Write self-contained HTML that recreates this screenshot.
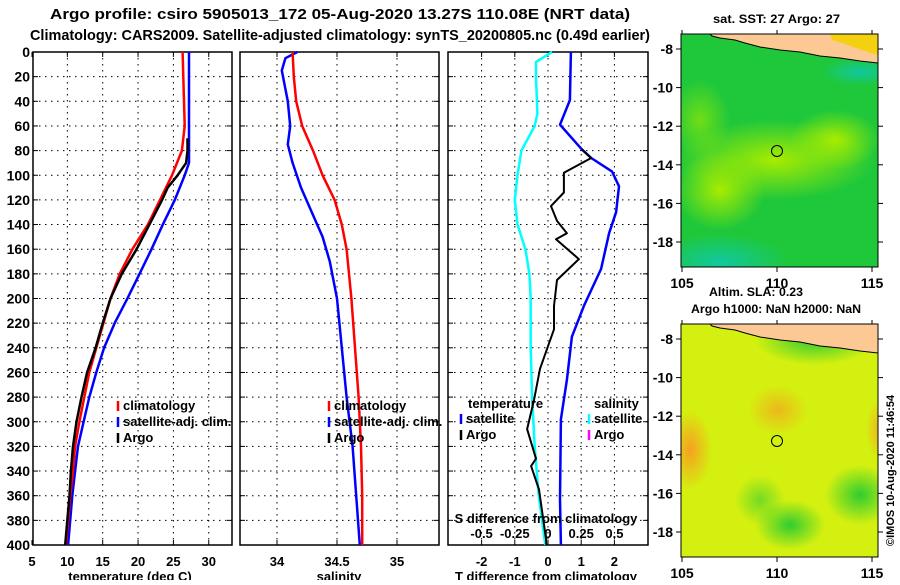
<!DOCTYPE html>
<html><head><meta charset="utf-8"><style>
body{margin:0;background:#fff;}
svg text{font-family:"Liberation Sans",Arial,sans-serif;font-weight:bold;}
</style></head><body>
<svg id="fig" width="900" height="580" viewBox="0 0 900 580" xmlns="http://www.w3.org/2000/svg">
<defs>
<radialGradient id="g1" cx="0.5" cy="0.5" r="0.5"><stop offset="0" stop-color="#a8ec00"/><stop offset="1" stop-color="#a8ec00" stop-opacity="0"/></radialGradient>
<radialGradient id="g2" cx="0.5" cy="0.5" r="0.5"><stop offset="0" stop-color="#10c8a0"/><stop offset="1" stop-color="#10c8a0" stop-opacity="0"/></radialGradient>
<radialGradient id="o1" cx="0.5" cy="0.5" r="0.5"><stop offset="0" stop-color="#f7a020"/><stop offset="1" stop-color="#f7a020" stop-opacity="0"/></radialGradient>
<radialGradient id="gg" cx="0.5" cy="0.5" r="0.5"><stop offset="0" stop-color="#30cc30"/><stop offset="1" stop-color="#30cc30" stop-opacity="0"/></radialGradient>
<clipPath id="cm1"><rect x="681" y="34" width="197" height="233"/></clipPath>
<clipPath id="cm2"><rect x="681" y="324" width="197" height="233"/></clipPath>
</defs>
<text x="50" y="19" font-size="15" textLength="580" lengthAdjust="spacingAndGlyphs">Argo profile: csiro 5905013_172 05-Aug-2020 13.27S 110.08E (NRT data)</text>
<text x="30" y="40" font-size="15" textLength="620" lengthAdjust="spacingAndGlyphs">Climatology: CARS2009. Satellite-adjusted climatology: synTS_20200805.nc (0.49d earlier)</text>
<g id="p1"></g>
<g id="p2"></g>
<g id="p3"></g>

<!-- top map -->
<g>
<text x="713" y="23" font-size="12" textLength="127" lengthAdjust="spacingAndGlyphs">sat. SST: 27 Argo: 27</text>
<g clip-path="url(#cm1)">
<rect x="681" y="34" width="197" height="233" fill="#1fc83a"/>
<ellipse cx="775" cy="160" rx="100" ry="40" fill="url(#g1)"/>
<ellipse cx="835" cy="140" rx="45" ry="30" fill="url(#g1)"/>
<ellipse cx="720" cy="190" rx="45" ry="40" fill="url(#g1)"/>
<ellipse cx="700" cy="120" rx="30" ry="40" fill="url(#g1)" opacity="0.6"/>
<ellipse cx="720" cy="262" rx="70" ry="28" fill="url(#g2)"/>
<ellipse cx="860" cy="72" rx="40" ry="14" fill="url(#g2)"/>
<path d="M710,34 L878,34 L878,63 L860,61 L840,58 L820,56 L800,52 L780,50 L760,47 L745,43 L735,40 L720,38 L712,36 Z" fill="#fcc894" stroke="#000" stroke-width="1"/>
<path d="M830,34 L878,34 L878,55 L862,50 L845,44 L832,40 Z" fill="#f5d010"/>
</g>
<rect x="681" y="34" width="197" height="233" fill="none" stroke="#000"/>
<circle cx="777" cy="151" r="5.5" fill="none" stroke="#000"/>
<g id="m1ax"></g>
<text x="709" y="296" font-size="12" textLength="94" lengthAdjust="spacingAndGlyphs">Altim. SLA: 0.23</text>
<text x="691" y="313" font-size="12" textLength="170" lengthAdjust="spacingAndGlyphs">Argo h1000: NaN h2000: NaN</text>
</g>
<!-- bottom map -->
<g>
<g clip-path="url(#cm2)">
<rect x="681" y="324" width="197" height="233" fill="#d4f010"/>
<ellipse cx="815" cy="340" rx="60" ry="25" fill="url(#gg)"/>
<ellipse cx="860" cy="495" rx="35" ry="30" fill="url(#gg)"/>
<ellipse cx="790" cy="525" rx="35" ry="25" fill="url(#gg)"/>
<ellipse cx="760" cy="500" rx="25" ry="25" fill="url(#gg)" opacity="0.6"/>
<ellipse cx="690" cy="450" rx="22" ry="40" fill="url(#o1)"/>
<ellipse cx="778" cy="410" rx="30" ry="25" fill="url(#o1)" opacity="0.7"/>
<ellipse cx="878" cy="430" rx="12" ry="30" fill="url(#o1)" opacity="0.7"/>
<path d="M710,324 L878,324 L878,353 L860,351 L840,348 L820,346 L800,342 L780,340 L760,337 L745,333 L735,330 L720,328 L712,326 Z" fill="#fcc894" stroke="#000" stroke-width="1"/>
</g>
<rect x="681" y="324" width="197" height="233" fill="none" stroke="#000"/>
<circle cx="777" cy="441" r="5.5" fill="none" stroke="#000"/>
<g id="m2ax"></g>
</g>
<text transform="translate(894,546) rotate(-90)" font-size="11" font-weight="normal">©IMOS 10-Aug-2020 11:46:54</text>
</svg>
<script>
// depths (m) and values
const tDepClim=[0,20,40,60,80,100,120,140,160,180,200,220,240,260,280,300,320,340,360,380,400];
const tClim=[26.3,26.4,26.5,26.6,26.2,24.8,23.1,21.4,19.2,17.4,16.1,15.1,14.1,13.1,12.4,11.7,11.1,10.8,10.4,10.1,9.8];
const tDepSat=[0,20,40,60,80,90,100,120,140,160,180,200,220,240,260,280,300,320,340,360,380,400];
const tSat=[27.2,27.2,27.2,27.2,27.2,27.2,26.6,25.2,23.5,21.9,20.2,18.5,16.7,15.2,14.1,13.1,12.3,11.5,11.1,10.7,10.4,10.1];
const tDepArgo=[70,80,90,100,110,120,140,160,180,200,220,240,260,280,300,320,340,360,380,400];
const tArgo=[27,27,26.8,25.6,24.2,23.4,21.6,19.8,17.7,16.1,15,14,12.8,12,11.3,10.8,10.5,10.3,10,9.7];
const sDepClim=[0,20,40,60,80,100,120,140,160,180,200,240,280,320,360,400];
const sClim=[34.13,34.14,34.16,34.21,34.30,34.38,34.48,34.54,34.58,34.60,34.62,34.65,34.68,34.70,34.71,34.71];
const sDepSat=[0,5,15,40,60,75,90,110,130,150,170,200,240,280,320,360,400];
const sSat=[34.17,34.07,34.04,34.09,34.11,34.09,34.13,34.20,34.29,34.38,34.44,34.50,34.54,34.58,34.63,34.66,34.69];
const dDepT=[0,39,59,79,86,97,109,130,147,176,206,231,266,298,363,400];
const dTSat=[0.69,0.66,0.36,1.02,1.30,1.93,2.14,2.05,1.84,1.60,1.08,0.72,0.57,0.39,0.36,0.39];
const dDepArgo=[79,86,98,114,125,137,147,152,168,185,206,225,257,282,306,330,336,355,395,400];
const dTArgo=[1.02,1.30,0.48,0.48,0.09,0.27,0.57,0.24,0.93,0.27,0.18,0.18,-0.24,-0.42,-0.63,-0.36,-0.51,-0.27,-0.06,-0.05];
const dDepS=[0,8,20,50,60,80,100,120,140,160,180,200,240,280,320,360,400];
const dSSat=[0.03,-0.09,-0.09,-0.08,-0.10,-0.20,-0.23,-0.25,-0.23,-0.17,-0.14,-0.13,-0.13,-0.12,-0.10,-0.07,-0.02];
const depthTicks=[0,20,40,60,80,100,120,140,160,180,200,220,240,260,280,300,320,340,360,380,400];
const tTicks=[5,10,15,20,25,30];
const sTicks=[34,34.5,35];
const dTTicks=[-2,-1,0,1,2];
const dSTicks=[-0.5,-0.25,0,0.25,0.5];
const latTicks=[-8,-10,-12,-14,-16,-18];
const lonTicks=[105,110,115];

const NS='http://www.w3.org/2000/svg';
const Y0=52,Y1=545;
const yD=d=>Y0+(Y1-Y0)*d/400;
function el(t,a,p){const e=document.createElementNS(NS,t);for(const k in a)e.setAttribute(k,a[k]);p.appendChild(e);return e;}
function txt(p,x,y,s,anchor,size){const e=el('text',{x:x,y:y,'text-anchor':anchor||'middle','font-size':size||13},p);e.textContent=s;return e;}

function panel(g,x0,x1,xs,ticks,showDepth){
  const fr=el('rect',{x:x0,y:Y0,width:x1-x0,height:Y1-Y0,fill:'none',stroke:'#000','stroke-width':1.5},g);
  
  
  depthTicks.forEach(d=>{
    const y=yD(d);
    if(d>0&&d<400){const l=el('line',{x1:x0,x2:x1,y1:y,y2:y,stroke:'#000','stroke-dasharray':'1.5,4.5','stroke-width':1},g);
      
      }
    el('line',{x1:x0,x2:x0+5,y1:y,y2:y,stroke:'#000'},g);el('line',{x1:x1-5,x2:x1,y1:y,y2:y,stroke:'#000'},g);
    if(showDepth){const t=txt(g,x0-3,y+5,String(d),'end',14);
      
      }
  });
  ticks.forEach(v=>{const x=xs(v);
    if(x>x0+1&&x<x1-1){const l=el('line',{x1:x,x2:x,y1:Y0,y2:Y1,stroke:'#000','stroke-dasharray':'1.5,4.5'},g);
      
      }
    el('line',{x1:x,x2:x,y1:Y1-5,y2:Y1,stroke:'#000'},g);el('line',{x1:x,x2:x,y1:Y0,y2:Y0+5,stroke:'#000'},g);
  });
}
function line(g,xs,deps,vals,color,name,w){
  const d=vals.map((v,i)=>(i?'L':'M')+xs(v).toFixed(1)+','+yD(deps[i]).toFixed(1)).join(' ');
  const p=el('path',{d:d,fill:'none',stroke:color,'stroke-width':w||2.5,'stroke-linejoin':'round'},g);
  
  
}
function legend(g,x,y,items){
  items.forEach((it,i)=>{const yy=y+i*16;
    el('line',{x1:x,x2:x,y1:yy-10,y2:yy,stroke:it[1],'stroke-width':2.5},g);
    const t=txt(g,x+5,yy-1,it[0],'start',13);
    
    
  });
}
// panel 1
const g1=document.getElementById('p1');
const xT=v=>32+(v-5)*7.07;
panel(g1,33,232,xT,tTicks,true);
tTicks.forEach(v=>{const t=txt(g1,xT(v),566,String(v));
  
  });
const a1=txt(g1,130,581,'temperature (deg C)');


line(g1,xT,tDepSat,tSat,'#0000ff','temp-satellite-line');
line(g1,xT,tDepClim,tClim,'#ff0000','temp-climatology-line');
line(g1,xT,tDepArgo,tArgo,'#000','temp-argo-line');
legend(g1,118,411,[['climatology','#ff0000'],['satellite-adj. clim.','#0000ff'],['Argo','#000']]);
// panel 2
const g2=document.getElementById('p2');
const xS=v=>277+(v-34)*120;
panel(g2,240,439,xS,sTicks,false);
sTicks.forEach(v=>{const t=txt(g2,xS(v),566,String(v));
  
  });
const a2=txt(g2,339,581,'salinity');


line(g2,xS,sDepSat,sSat,'#0000ff','sal-satellite-line');
line(g2,xS,sDepClim,sClim,'#ff0000','sal-climatology-line');
legend(g2,329,411,[['climatology','#ff0000'],['satellite-adj. clim.','#0000ff'],['Argo','#000']]);
// panel 3
const g3=document.getElementById('p3');
const xDT=v=>548+v*33.2;
const xDS=v=>548+v*132.8;
panel(g3,448,648,xDT,dTTicks,false);
dTTicks.forEach(v=>{const t=txt(g3,xDT(v),566,String(v));
  
  });
const a3=txt(g3,546,581,'T difference from climatology');


line(g3,xDS,dDepS,dSSat,'#00ffff','sal-diff-satellite-line');
line(g3,xDT,dDepT,dTSat,'#0000ff','temp-diff-satellite-line');
line(g3,xDT,dDepArgo,dTArgo,'#000','temp-diff-argo-line',2);
const sl=txt(g3,546,523,'S difference from climatology');


dSTicks.forEach(v=>{const t=txt(g3,xDS(v),538,String(v));
  
  });
const th=txt(g3,468,408,'temperature','start');
const sh=txt(g3,594,408,'salinity','start');
legend(g3,461,424,[['satellite','#0000ff'],['Argo','#000']]);
legend(g3,589,424,[['satellite','#00ffff'],['Argo','#ff00ff']]);
// map axes
function mapAx(id,top){
  const g=document.getElementById(id);
  const latY=v=>top+15+(-8-v)*19.3;
  const lonX=v=>682+(v-105)*19;
  latTicks.forEach(v=>{const y=latY(v);
    el('line',{x1:681,x2:676,y1:y,y2:y,stroke:'#000'},g);el('line',{x1:878,x2:883,y1:y,y2:y,stroke:'#000'},g);
    const t=txt(g,673,y+5,String(v),'end',14);
    
    });
  lonTicks.forEach(v=>{const x=lonX(v);
    el('line',{x1:x,x2:x,y1:top,y2:top-4,stroke:'#000'},g);el('line',{x1:x,x2:x,y1:top+233,y2:top+238,stroke:'#000'},g);
    const t=txt(g,x,top+254,String(v),'middle',14);
    
    });
}
mapAx('m1ax',34);mapAx('m2ax',324);
</script>
</body></html>
